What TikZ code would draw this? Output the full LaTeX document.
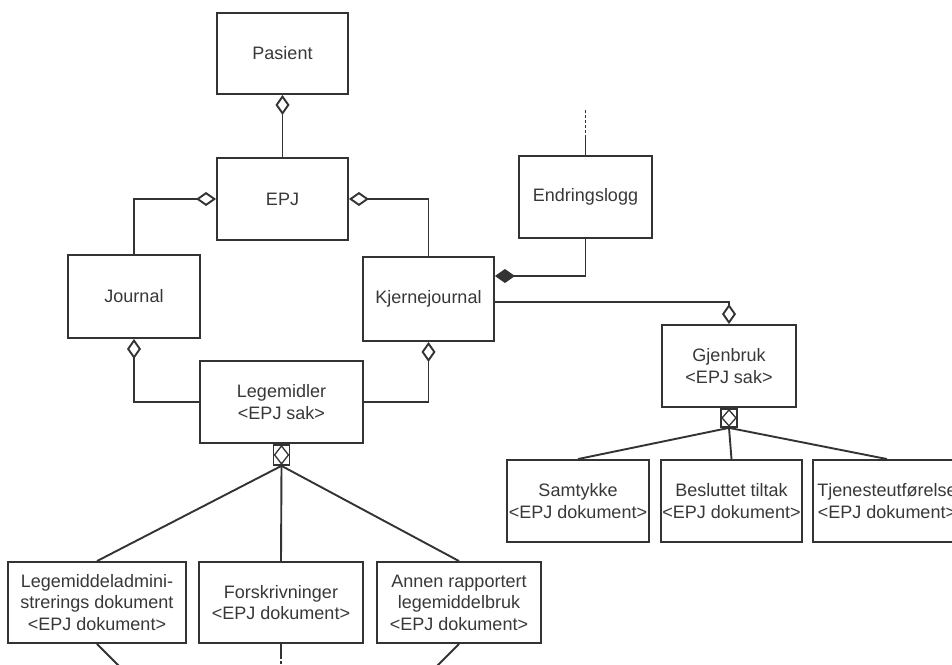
\documentclass[tikz,border=0pt]{standalone}
\usepackage{fontspec}
\setmainfont{Liberation Sans}
\usetikzlibrary{arrows.meta}
\definecolor{lc}{HTML}{333333}
\definecolor{tc}{HTML}{383838}
\begin{document}
\begin{tikzpicture}[x=1pt,y=-1pt,
  box/.style={draw=lc, line width=1.9pt, fill=white, align=center, inner sep=0pt,
    text=tc, font=\fontsize{18}{21.5}\selectfont},
  link/.style={draw=lc, line width=1.9pt},
  agg/.style={-{Diamond[fill=white,length=20pt,width=14pt]}},
  comp/.style={-{Diamond[fill=lc,length=20pt,width=14pt]}},
  marker/.style={draw=lc, line width=1.9pt, fill=white, inner sep=0pt,
    minimum width=16pt, minimum height=19pt, anchor=north},
  inner/.style={draw=lc, line width=1.3pt},
]
\useasboundingbox (0,0) rectangle (952,664);
\fill[white] (0,0) rectangle (952,664);
\clip (0,0) rectangle (952,664);

% classes
\node[box, minimum width=131pt, minimum height=81pt] (pas) at (282.5,53.5) {Pasient};
\node[box, minimum width=131pt, minimum height=82pt] (epj) at (282.5,199) {EPJ};
\node[box, minimum width=132pt, minimum height=83pt] (jou) at (134,296.5) {Journal};
\node[box, minimum width=131pt, minimum height=84pt] (kj) at (428.5,299) {Kjernejournal};
\node[box, minimum width=133pt, minimum height=82pt] (endr) at (585.5,197) {Endringslogg};
\node[box, minimum width=163pt, minimum height=82pt] (leg) at (281.5,402) {Legemidler\\<EPJ sak>};
\node[box, minimum width=134pt, minimum height=82pt] (gjen) at (729,366) {Gjenbruk\\<EPJ sak>};

\node[box, minimum width=142pt, minimum height=82pt] (samt) at (578,501) {Samtykke\\<EPJ dokument>};
\node[box, minimum width=141pt, minimum height=82pt] (besl) at (731.5,501) {Besluttet tiltak\\<EPJ dokument>};
\node[box, minimum width=148pt, minimum height=82pt] (tjen) at (887,501) {Tjenesteutførelse\\<EPJ dokument>};

\node[box, minimum width=178pt, minimum height=81pt] (lma) at (97,602.5)
  {Legemiddeladmini-\\strerings dokument\\<EPJ dokument>};
\node[box, minimum width=164pt, minimum height=81pt] (forsk) at (281,602.5)
  {Forskrivninger\\<EPJ dokument>};
\node[box, minimum width=164pt, minimum height=81pt] (annen) at (459,602.5)
  {Annen rapportert\\legemiddelbruk\\<EPJ dokument>};

% aggregation markers below the case classes
\node[marker, minimum height=20pt] (legm) at (leg.south) {};
\draw[inner] ([yshift=-2pt]legm.north) -- ([xshift=-2pt]legm.east)
  -- ([yshift=2pt]legm.south) -- ([xshift=2pt]legm.west) -- cycle;
\node[marker, minimum height=18pt] (gjm) at (gjen.south) {};
\draw[inner] ([yshift=-2pt]gjm.north) -- ([xshift=-2pt]gjm.east)
  -- ([yshift=2pt]gjm.south) -- ([xshift=2pt]gjm.west) -- cycle;

% aggregations and composition
\draw[link, agg] (epj.north) -- (pas.south);
\draw[link, agg] (jou.north) |- (epj.west);
\draw[link, agg] (kj.north) |- (epj.east);
\draw[link, agg] (leg.west) -| (jou.south);
\draw[link, agg] (leg.east) -| (kj.south);
\draw[link, comp] (endr.south) |- ([yshift=23pt]kj.east);
\draw[link, agg] ([yshift=-3pt]kj.east) -| (gjen.north);

% change log continues upwards
\coordinate (endmid) at (585.5,138);
\coordinate (endtop) at (585.5,110);
\draw[link] (endr.north) -- (endmid);
\draw[link, dash pattern=on 3pt off 2pt] (endmid) -- (endtop);

% document fan-out
\draw[link] (legm.south) -- (lma.north);
\draw[link] (legm.south) -- (forsk.north);
\draw[link] (legm.south) -- (annen.north);
\draw[link] (gjm.south) -- (samt.north);
\draw[link] (gjm.south) -- (besl.north);
\draw[link] (gjm.south) -- (tjen.north);

% lines continuing below the documents
\coordinate (lmaend) at (121,668);
\coordinate (fmid) at (281,656);
\coordinate (fend) at (281,668);
\coordinate (annenend) at (435,668);
\draw[link] (lma.south) -- (lmaend);
\draw[link] (forsk.south) -- (fmid);
\draw[link, dash pattern=on 3pt off 2pt] (fmid) -- (fend);
\draw[link] (annen.south) -- (annenend);
\end{tikzpicture}
\end{document}
